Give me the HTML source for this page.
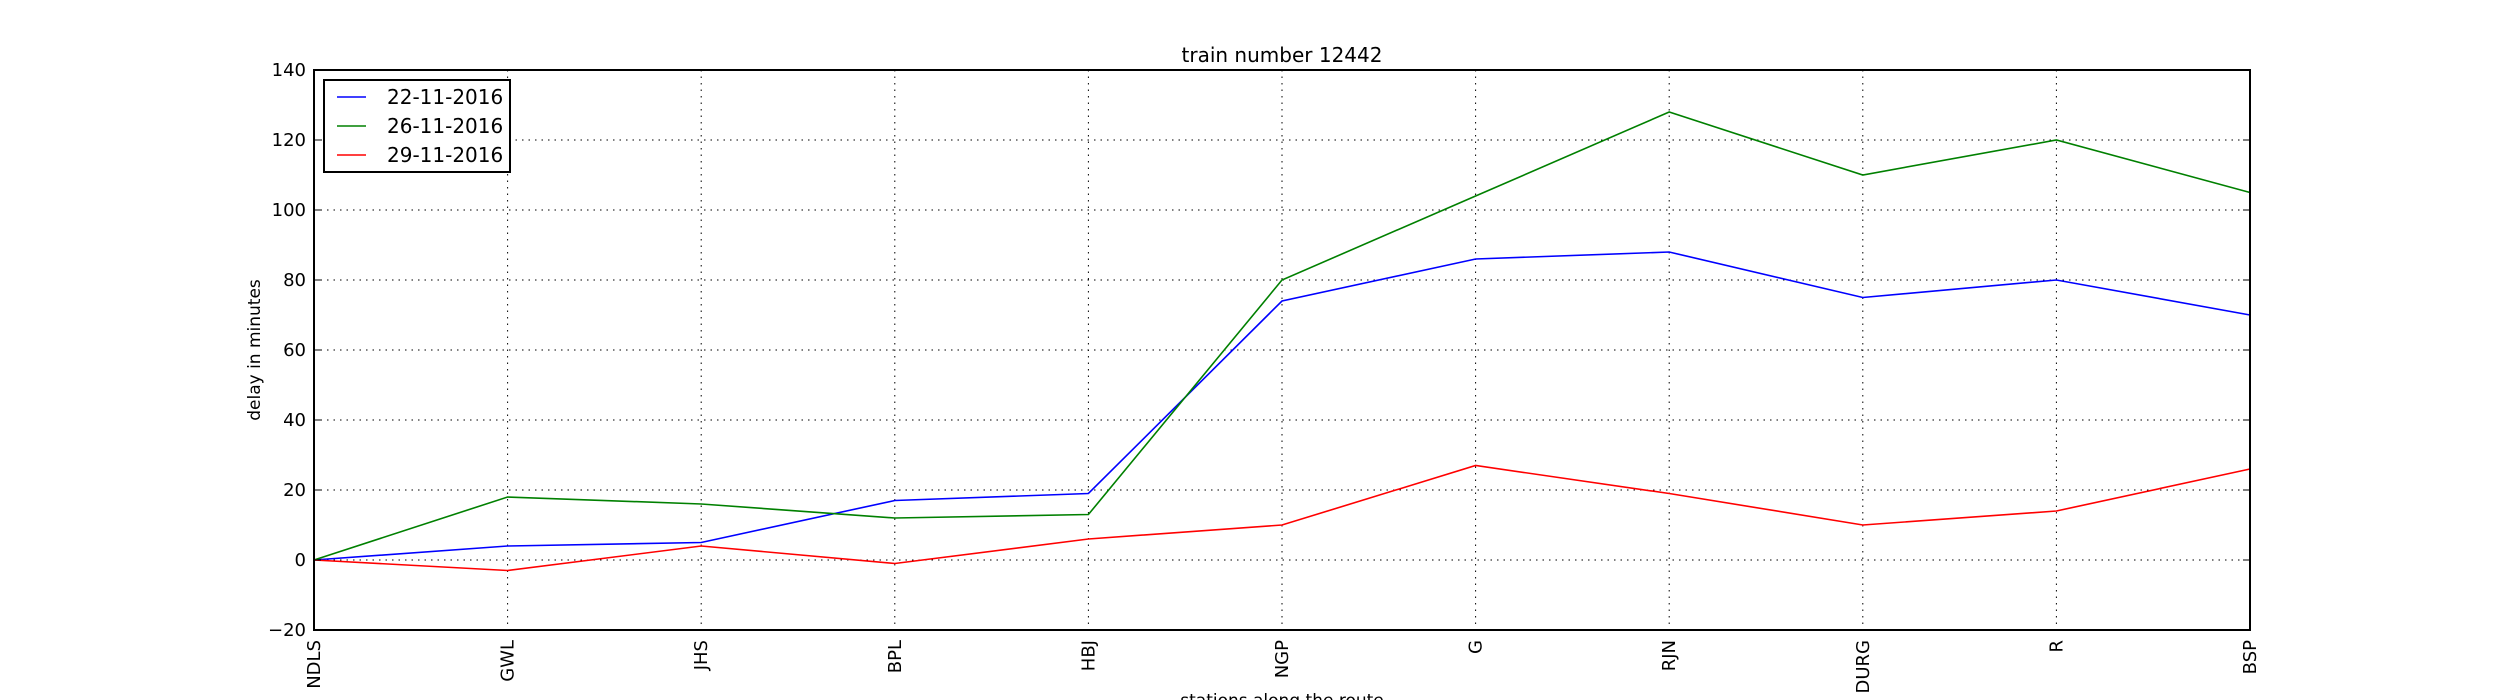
<!DOCTYPE html>
<html><head><meta charset="utf-8"><style>
body{margin:0;background:#fff}
svg{display:block;font-family:"DejaVu Sans","Liberation Sans",sans-serif}
</style></head><body>
<svg id="chart" width="2500" height="700">
<rect width="2500" height="700" fill="#fff"/>
<g id="grid"></g><g id="lines"></g><g id="ticks"></g>
<rect x="314" y="70" width="1936" height="560" fill="none" stroke="#000" stroke-width="2"/>
<text x="1282" y="62" text-anchor="middle" font-size="20">train number 12442</text>
<text transform="translate(260,350) rotate(-90)" text-anchor="middle" font-size="17">delay in minutes</text>
<text x="1282" y="706" text-anchor="middle" font-size="17">stations along the route</text>
<g>
<rect x="324" y="80" width="186" height="92" fill="#fff" stroke="#000" stroke-width="2"/>
<g id="legend"></g>
</g>
</svg>
<script>
const categories=["NDLS","GWL","JHS","BPL","HBJ","NGP","G","RJN","DURG","R","BSP"];
const seriesNames=["22-11-2016","26-11-2016","29-11-2016"];
const s1=[0,4,5,17,19,74,86,88,75,80,70];
const s2=[0,18,16,12,13,80,104,128,110,120,105];
const s3=[0,-3,4,-1,6,10,27,19,10,14,26];
const yTicks=[-20,0,20,40,60,80,100,120,140];
const colors=["#0000ff","#008000","#ff0000"];
const L=314,R=2250,T=70,B=630,ymin=-20,ymax=140;
const NS="http://www.w3.org/2000/svg";
function xs(i){return L+(R-L)*i/(categories.length-1);}
function ys(v){return B-(v-ymin)/(ymax-ymin)*(B-T);}
function mk(t,a,p){const e=document.createElementNS(NS,t);for(const k in a)e.setAttribute(k,a[k]);p.appendChild(e);return e;}
const grid=document.getElementById('grid'),ticks=document.getElementById('ticks'),lines=document.getElementById('lines'),leg=document.getElementById('legend');
yTicks.forEach(v=>{
 const y=ys(v);
 const g=mk('line',{x1:L,x2:R,y1:y,y2:y,stroke:'#000','stroke-width':1,'stroke-dasharray':'1.5,5'},grid);
 
 
 mk('line',{x1:L,x2:L+7,y1:y,y2:y,stroke:'#000'},ticks);
 mk('line',{x1:R-7,x2:R,y1:y,y2:y,stroke:'#000'},ticks);
 const t=mk('text',{x:L-8,y:y+6,'text-anchor':'end','font-size':18},ticks);
 t.textContent=v<0?'\u2212'+(-v):v;
 
 
});
categories.forEach((c,i)=>{
 const x=xs(i);
 const g=mk('line',{x1:x,x2:x,y1:T,y2:B,stroke:'#000','stroke-width':1,'stroke-dasharray':'1.5,5'},grid);
 
 
 const t=mk('text',{transform:`translate(${x+6},640) rotate(-90)`,'text-anchor':'end','font-size':18},ticks);
 t.textContent=c;
 
 
});
[s1,s2,s3].forEach((s,k)=>{
 const p=mk('polyline',{points:s.map((v,i)=>xs(i)+','+ys(v)).join(' '),fill:'none',stroke:colors[k],'stroke-width':1.6},lines);
 
 
 const y=97+k*29;
 mk('line',{x1:337,x2:366,y1:y,y2:y,stroke:colors[k],'stroke-width':1.6},leg);
 const t=mk('text',{x:387,y:y+7,'font-size':20},leg);
 t.textContent=seriesNames[k];
 
 
});
</script>
</body></html>
